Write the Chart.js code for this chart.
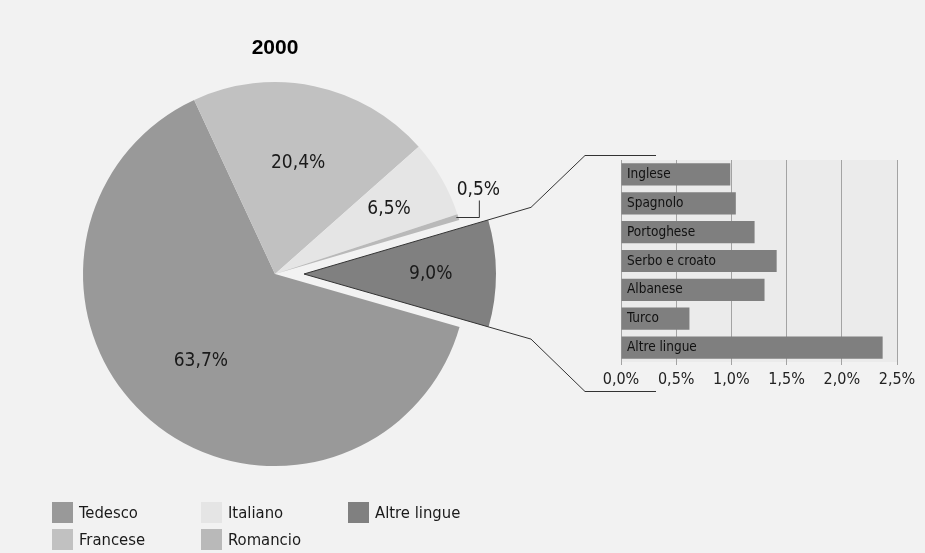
<!DOCTYPE html>
<html>
<head>
<meta charset="utf-8">
<script src="https://cdn.jsdelivr.net/npm/chart.js@4.4.1/dist/chart.umd.min.js"></script>
<style>
  html, body { margin: 0; padding: 0; background: #f2f2f2; }
  body {
    width: 925px; height: 553px; position: relative; overflow: hidden;
    font-family: 'DejaVu Sans Condensed', 'Liberation Sans', sans-serif;
  }
  #pieBox { position: absolute; left: 0; top: 0; width: 925px; height: 553px; }
  #barBox { position: absolute; left: 600px; top: 150px; width: 325px; height: 250px; }
  #legend {
    position: absolute; left: 52px; top: 502px;
    display: grid; grid-auto-flow: column;
    grid-template-rows: 26.5px 26.5px;
    grid-template-columns: 149px 147px 150px;
  }
  .item { display: flex; align-items: center; height: 21px; font-size: 16.5px; color: #1a1a1a; }
  .sw { width: 21px; height: 21px; margin-right: 6px; }
</style>
</head>
<body>
<div id="pieBox"><canvas id="pieChart"></canvas></div>
<div id="barBox"><canvas id="barChart"></canvas></div>
<div id="legend"></div>
<script>
// main pie: languages spoken, 2000
const languages = ['Tedesco', 'Francese', 'Italiano', 'Romancio', 'Altre lingue'];
const shares = [63.7, 20.4, 6.5, 0.5, 9.0];

// breakdown of "Altre lingue"
const otherLanguages = ['Inglese', 'Spagnolo', 'Portoghese', 'Serbo e croato', 'Albanese', 'Turco', 'Altre lingue'];
const otherShares = [0.99, 1.04, 1.21, 1.41, 1.30, 0.62, 2.37];
const axisTicks = [0, 0.5, 1.0, 1.5, 2.0, 2.5];

const sliceColors = ['#999999', '#c1c1c1', '#e5e5e5', '#b9b9b9', '#808080'];
const labelRadius = [0.594, 0.59, 0.685, null, 0.66]; // null = outside with leader
const explodeBy = 29;
const FONT = "'DejaVu Sans Condensed', 'Liberation Sans', sans-serif";

Chart.defaults.font.family = FONT;
Chart.defaults.color = '#1a1a1a';

const fmt = v => v.toFixed(1).replace('.', ',') + '%';

const pieExtras = {
  id: 'pieExtras',
  afterDatasetsUpdate(chart) {
    // pull the last slice out
    const arc = chart.getDatasetMeta(0).data[4];
    const mid = (arc.startAngle + arc.endAngle) / 2;
    arc.x += Math.cos(mid) * explodeBy;
    arc.y += Math.sin(mid) * explodeBy;
  },
  afterDatasetsDraw(chart) {
    const ctx = chart.ctx;
    const arcs = chart.getDatasetMeta(0).data;
    ctx.save();
    ctx.font = '19px ' + FONT;
    ctx.fillStyle = '#1a1a1a';
    ctx.textAlign = 'center';
    ctx.textBaseline = 'middle';
    ctx.strokeStyle = '#333';
    ctx.lineWidth = 1;
    arcs.forEach((arc, i) => {
      const mid = (arc.startAngle + arc.endAngle) / 2;
      if (labelRadius[i]) {
        const r = arc.outerRadius * labelRadius[i];
        ctx.fillText(fmt(shares[i]), arc.x + Math.cos(mid) * r, arc.y + Math.sin(mid) * r);
      } else {
        const px = arc.x + Math.cos(mid) * arc.outerRadius;
        const py = Math.round(arc.y + Math.sin(mid) * arc.outerRadius) + 0.5;
        ctx.beginPath();
        ctx.moveTo(px - 2, py);
        ctx.lineTo(px + 21, py);
        ctx.lineTo(px + 21, py - 17);
        ctx.stroke();
        ctx.fillText(fmt(shares[i]), px + 20, py - 27);
      }
    });

    // connector from exploded slice to the bar chart
    const ex = arcs[4];
    [[ex.startAngle, 155.5], [ex.endAngle, 391.5]].forEach(([a, yH]) => {
      const t = (531 - ex.x) / Math.cos(a);
      ctx.beginPath();
      ctx.moveTo(ex.x, ex.y);
      ctx.lineTo(531, ex.y + t * Math.sin(a));
      ctx.lineTo(585, yH);
      ctx.lineTo(656, yH);
      ctx.stroke();
    });
    ctx.restore();
  }
};

new Chart(document.getElementById('pieChart'), {
  type: 'pie',
  data: {
    labels: languages,
    datasets: [{
      data: shares,
      backgroundColor: sliceColors,
      borderWidth: 0
    }]
  },
  options: {
    responsive: true,
    maintainAspectRatio: false,
    animation: false,
    events: [],
    rotation: 106,
    radius: 192,
    layout: { padding: { left: 10, right: 385, top: 36, bottom: 75 } },
    plugins: {
      legend: { display: false },
      tooltip: { enabled: false },
      title: {
        display: true,
        text: '2000',
        color: '#000',
        font: { family: "'Liberation Sans', Arial, sans-serif", size: 21, weight: 'bold' },
        padding: { top: 0, bottom: 9 }
      }
    }
  },
  plugins: [pieExtras]
});

const plotBg = {
  id: 'plotBg',
  beforeDraw(chart) {
    const { ctx, chartArea: a } = chart;
    ctx.save();
    ctx.fillStyle = '#ebebeb';
    ctx.fillRect(a.left, a.top, a.right - a.left, a.bottom - a.top);
    ctx.restore();
  }
};

new Chart(document.getElementById('barChart'), {
  type: 'bar',
  data: {
    labels: otherLanguages,
    datasets: [{
      data: otherShares,
      backgroundColor: '#7f7f7f',
      barPercentage: 0.77,
      categoryPercentage: 1
    }]
  },
  options: {
    indexAxis: 'y',
    responsive: true,
    maintainAspectRatio: false,
    animation: false,
    events: [],
    layout: { padding: { left: 21, right: 28, top: 10, bottom: 8 } },
    plugins: { legend: { display: false }, tooltip: { enabled: false } },
    scales: {
      x: {
        min: 0,
        max: 2.5,
        afterBuildTicks: s => { s.ticks = axisTicks.map(v => ({ value: v })); },
        afterFit: s => { s.height = 30; s.paddingLeft = 0; s.paddingRight = 0; },
        grid: { color: '#a3a3a3', tickLength: 3 },
        border: { display: false },
        ticks: { padding: 5, color: '#222', font: { size: 16 }, callback: v => fmt(v) }
      },
      y: {
        afterFit: s => { s.width = 0; s.paddingTop = 0; s.paddingBottom = 0; },
        grid: { display: false, drawTicks: false },
        border: { display: false },
        // labels sit inside the bars, so draw them above the dataset layer
        ticks: { z: 1, mirror: true, padding: 6, color: '#111', font: { size: 13.5 } }
      }
    }
  },
  plugins: [plotBg]
});

// legend, column by column like the original
const legend = document.getElementById('legend');
languages.forEach((name, i) => {
  const item = document.createElement('div');
  item.className = 'item';
  item.innerHTML = '<span class="sw" style="background:' + sliceColors[i] + '"></span><span></span>';
  item.lastChild.textContent = name;
  legend.appendChild(item);
});
</script>
</body>
</html>
